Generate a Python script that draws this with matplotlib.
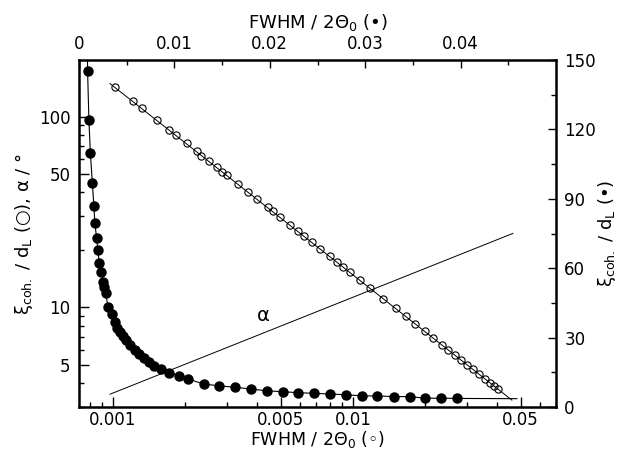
import matplotlib
matplotlib.use("Agg")
import matplotlib.pyplot as plt
from matplotlib.ticker import FixedLocator, FixedFormatter, NullFormatter

plt.rcParams['font.family'] = ['DejaVu Sans']
plt.rcParams['mathtext.fontset'] = 'dejavusans'

# ---- open circles: bottom (log) x vs left (log) y ----
open_x = [0.001019, 0.001215, 0.001317, 0.001530, 0.001716, 0.001830, 0.002028,
          0.002232, 0.002319, 0.002519, 0.002721, 0.002837, 0.002994, 0.003326,
          0.003662, 0.003981, 0.004423, 0.004642, 0.004963, 0.005463, 0.005900,
          0.006249, 0.006748, 0.007286, 0.008020, 0.008577, 0.009085, 0.009716,
          0.01069, 0.01177, 0.01337, 0.01511, 0.01663, 0.01813, 0.01995, 0.02161,
          0.02342, 0.02495, 0.02661, 0.02811, 0.02994, 0.03153, 0.03359, 0.03548,
          0.03722, 0.03868, 0.04031]
open_y = [143.6, 120.5, 111.3, 96.0, 85.5, 80.3, 72.5, 65.9, 62.0, 58.4, 54.1,
          51.0, 49.2, 44.3, 40.3, 37.1, 33.4, 31.8, 29.8, 27.1, 25.1, 23.7, 21.9,
          20.3, 18.5, 17.3, 16.3, 15.3, 13.9, 12.6, 11.1, 9.86, 8.96, 8.22, 7.47,
          6.90, 6.37, 5.98, 5.61, 5.32, 4.99, 4.74, 4.45, 4.22, 4.02, 3.87, 3.72]
open_fit_x = [0.000972, 0.04598]
open_fit_y = [148.9, 3.26]

# ---- alpha line (bottom log x, left log y) ----
alpha_x = [0.000972, 0.04642]
alpha_y = [3.50, 24.4]

# ---- filled circles: top (linear) x vs right (linear) y ----
filled_x = [0.00090, 0.00104, 0.00119, 0.00140, 0.00156, 0.00166, 0.00184, 0.00199,
            0.00211, 0.00234, 0.00252, 0.00265, 0.00280, 0.00304, 0.00350, 0.00379,
            0.00403, 0.00431, 0.00457, 0.00488, 0.00537, 0.00582, 0.00633, 0.00685,
            0.00737, 0.00789, 0.00859, 0.00945, 0.01049, 0.01145, 0.01308, 0.01464,
            0.01638, 0.01804, 0.01966, 0.02139, 0.02295, 0.02466, 0.02634, 0.02796,
            0.02970, 0.03126, 0.03299, 0.03465, 0.03627, 0.03790, 0.03964]
filled_y = [145.2, 123.9, 109.9, 96.8, 86.9, 79.7, 73.0, 67.7, 62.2, 58.5, 54.2,
            51.9, 49.1, 43.2, 40.1, 36.9, 34.3, 32.4, 30.7, 29.0, 26.8, 24.6, 22.9,
            21.1, 19.6, 17.7, 16.3, 14.8, 13.4, 12.1, 9.9, 9.2, 8.5, 7.8, 7.0, 6.6,
            6.2, 5.9, 5.6, 5.3, 4.8, 4.8, 4.5, 4.5, 3.8, 3.8, 3.7]
filled_line_start = (0.00087, 160.0)
filled_line_end = (0.0459, 3.6)

bottom_ticks = [0.001, 0.005, 0.01, 0.05]
bottom_labels = ['0.001', '0.005', '0.01', '0.05']
left_ticks = [5, 10, 50, 100]
left_labels = ['5', '10', '50', '100']
top_ticks = [0, 0.01, 0.02, 0.03, 0.04]
top_labels = ['0', '0.01', '0.02', '0.03', '0.04']
right_ticks = [0, 30, 60, 90, 120, 150]
right_labels = ['0', '30', '60', '90', '120', '150']

TFS = 12     # tick labels
LFS = 13     # axis labels
fig = plt.figure(figsize=(6.17, 4.49), dpi=100)
pos = [79/617, 1 - 407/449, (556 - 79)/617, (407 - 60)/449]
ax = fig.add_axes(pos)
ax.set_xscale('log')
ax.set_yscale('log')
ax.set_xlim(0.000722, 0.0702)
ax.set_ylim(3.0, 198)

ax.plot(open_fit_x, open_fit_y, '-', color='black', lw=0.7)
ax.plot(open_x, open_y, 'o', mfc='none', mec='black', mew=0.8, ms=5.2)
ax.plot(alpha_x, alpha_y, '-', color='black', lw=0.7)
ax.text(0.386, 0.265, 'α', transform=ax.transAxes, fontsize=14, ha='center', va='center')

ax.xaxis.set_major_locator(FixedLocator(bottom_ticks))
ax.xaxis.set_major_formatter(FixedFormatter(bottom_labels))
minor_x = [m * 10.0**e for e in (-4, -3, -2) for m in range(2, 10)]
ax.xaxis.set_minor_locator(FixedLocator([v for v in minor_x if v not in (0.005, 0.05)]))
ax.xaxis.set_minor_formatter(NullFormatter())
ax.yaxis.set_major_locator(FixedLocator(left_ticks))
ax.yaxis.set_major_formatter(FixedFormatter(left_labels))
minor_y = [m * 10.0**e for e in (0, 1, 2) for m in range(2, 10)]
ax.yaxis.set_minor_locator(FixedLocator([v for v in minor_y if v not in (5, 50)]))
ax.yaxis.set_minor_formatter(NullFormatter())
ax.tick_params(which='both', direction='in', top=False, right=False, labelsize=TFS, width=1.0)
ax.tick_params(which='major', length=7)
ax.tick_params(which='minor', length=3.5)
ax.tick_params(axis='x', pad=3)
ax.tick_params(axis='y', pad=6)
for s in ax.spines.values():
    s.set_linewidth(1.8)
ax.set_xlabel('FWHM / 2Θ$_{0}$ (◦)', fontsize=12.5, labelpad=0)
ax.set_ylabel('ξ$_{\\rm coh.}$ / d$_{\\rm L}$ (○), α / °', fontsize=LFS, labelpad=3)

ax2 = fig.add_axes(pos, frameon=False)
ax2.patch.set_visible(False)
ax2.set_xlim(0, 0.05)
ax2.set_ylim(0, 150)
lx = [filled_line_start[0]] + filled_x + [filled_line_end[0]]
ly = [filled_line_start[1]] + filled_y + [filled_line_end[1]]
ax2.plot(lx, ly, '-', color='black', lw=0.8, clip_on=True)
ax2.plot(filled_x, filled_y, 'o', color='black', ms=6.5)
ax2.xaxis.tick_top()
ax2.xaxis.set_label_position('top')
ax2.yaxis.tick_right()
ax2.yaxis.set_label_position('right')
ax2.xaxis.set_major_locator(FixedLocator(top_ticks))
ax2.xaxis.set_major_formatter(FixedFormatter(top_labels))
ax2.xaxis.set_minor_locator(FixedLocator([0.005, 0.015, 0.025, 0.035, 0.045]))
ax2.yaxis.set_major_locator(FixedLocator(right_ticks))
ax2.yaxis.set_major_formatter(FixedFormatter(right_labels))
ax2.yaxis.set_minor_locator(FixedLocator([15, 45, 75, 105, 135]))
ax2.tick_params(which='both', direction='in', labelsize=TFS, width=1.0)
ax2.tick_params(which='major', length=6)
ax2.tick_params(which='minor', length=3.5)
ax2.tick_params(axis='x', pad=5)
ax2.tick_params(axis='y', pad=6)
ax2.set_xlabel('FWHM / 2Θ$_{0}$ (•)', fontsize=LFS, labelpad=5)
ax2.set_ylabel('ξ$_{\\rm coh.}$ / d$_{\\rm L}$ (•)', fontsize=LFS, labelpad=0)

fig.savefig('out.png', dpi=100)
